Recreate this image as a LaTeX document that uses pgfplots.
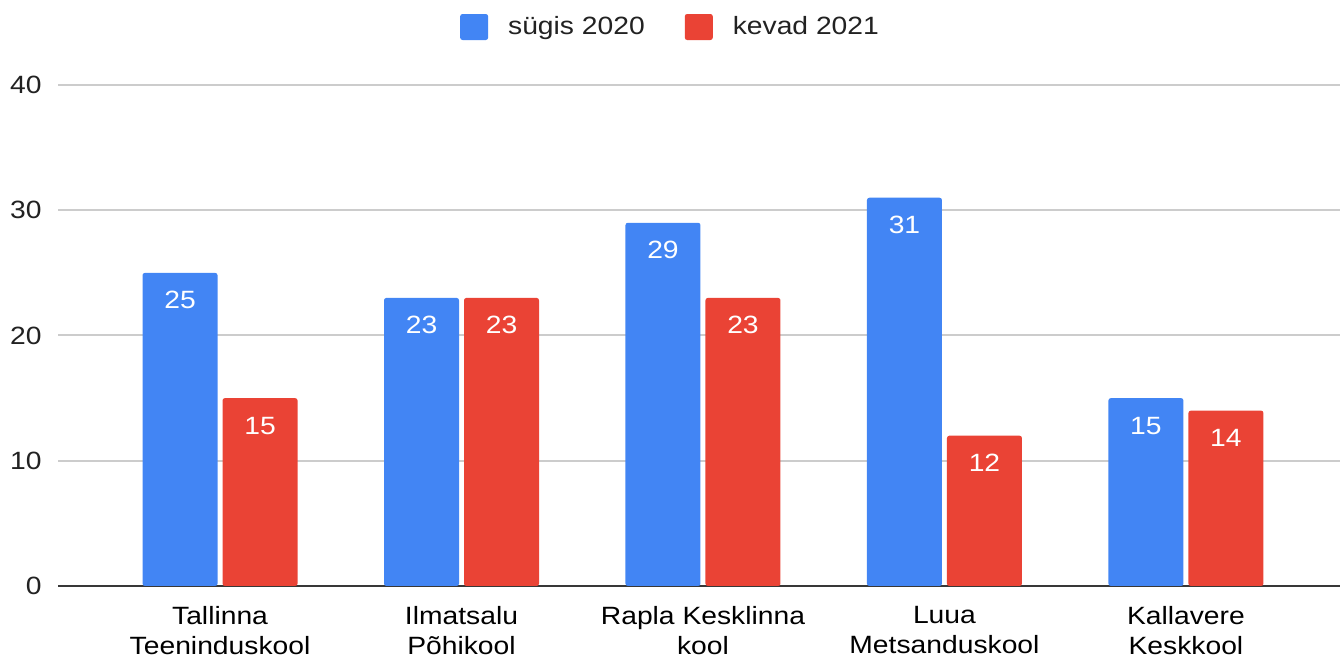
\documentclass[border=0pt]{standalone}
\usepackage{fontspec}
\setmainfont{Liberation Sans}[FakeStretch=1.13]
\usepackage{pgfplots}
\pgfplotsset{compat=1.18}
\definecolor{gblue}{HTML}{4285F4}
\definecolor{gred}{HTML}{EA4335}
\definecolor{gridgray}{HTML}{CCCCCC}
\definecolor{txt}{HTML}{222222}
\begin{document}
\begin{tikzpicture}
\begin{axis}[
    name=ax,
    scale only axis,
    width=641pt, height=250.5pt,
    ybar=2.5pt, bar width=37.5pt,
    xmin=-0.671, xmax=4.638,
    ymin=0, ymax=40,
    ytick={0,10,20,30,40},
    xtick={0,1,2,3,4},
    xticklabels={Tallinna\\Teeninduskool, Ilmatsalu\\Põhikool, Rapla Kesklinna\\kool, Luua\\Metsanduskool, Kallavere\\Keskkool},
    xticklabel style={align=center, font=\fontsize{12.5}{15}\selectfont, text=black,
        inner sep=0pt, anchor=north, yshift=-10pt},
    yticklabel style={font=\fontsize{12.5}{15}\selectfont, text=txt,
        inner sep=0pt, anchor=east, xshift=-8pt},
    /pgf/number format/assume math mode=true,
    major tick length=0pt,
    axis line style={draw=none},
    ymajorgrids, grid style={gridgray, line width=1pt},
    extra y ticks={0}, extra y tick labels={},
    extra y tick style={grid style={black!78, line width=1pt}},
    nodes near coords,
    every node near coord/.append style={anchor=base, text=white, yshift=-18pt,
        inner sep=0pt, font=\fontsize{12.5}{15}\selectfont},
    legend style={at={(rel axis cs:0.477,1)}, anchor=center, yshift=29pt, draw=none,
        font=\fontsize{12.5}{15}\selectfont, text=txt,
        nodes={inner sep=0pt}, column sep=10pt},
    legend columns=2,
    /tikz/every even column/.append style={column sep=20pt},
    legend image code/.code={\fill[#1] (0pt,-6.5pt) rectangle (14pt,6.5pt);},
]
\addplot[fill=gblue, draw=none, rounded corners=1.2pt] coordinates {(0,25) (1,23) (2,29) (3,31) (4,15)};
\addlegendentry{sügis 2020}
\addplot[fill=gred, draw=none, rounded corners=1.2pt] coordinates {(0,15) (1,23) (2,23) (3,12) (4,14)};
\addlegendentry{kevad 2021}
\end{axis}
\pgfresetboundingbox
\path ([shift={(-29pt,-35.5pt)}]ax.south west) rectangle ([shift={(0pt,42.5pt)}]ax.north east);
\end{tikzpicture}
\end{document}
